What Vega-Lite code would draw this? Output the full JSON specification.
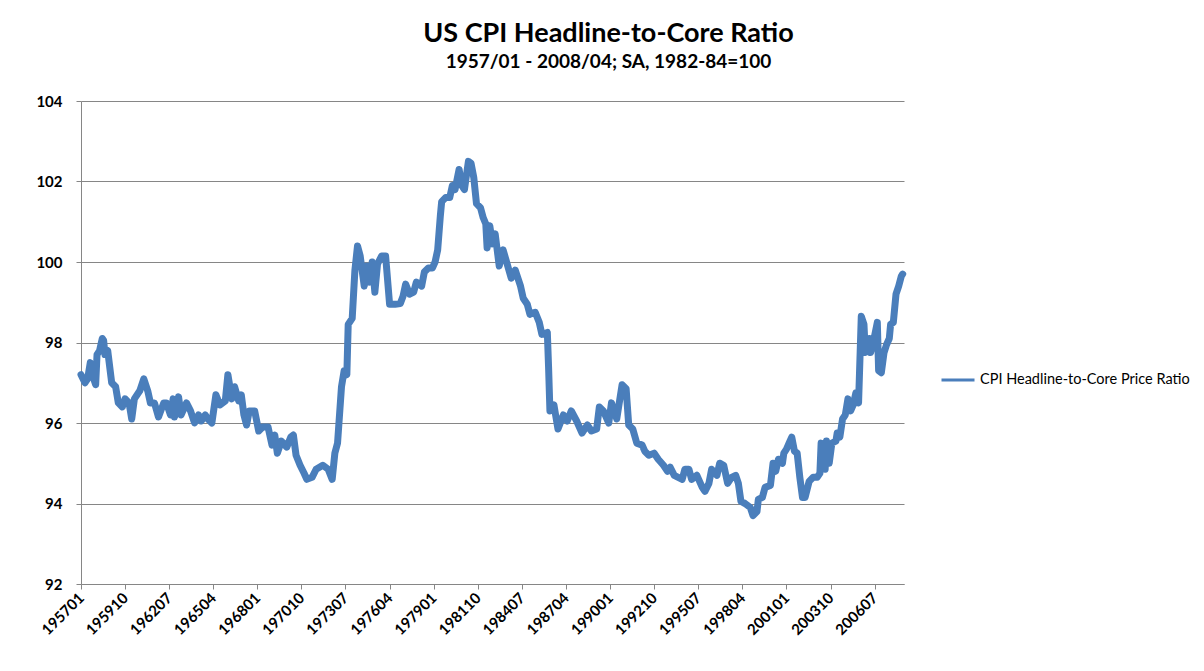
{
  "$schema": "https://vega.github.io/schema/vega-lite/v6.json",
  "autosize": {"type": "none"},
  "width": 823,
  "height": 483,
  "padding": {"left": 81, "top": 101, "right": 300, "bottom": 87},
  "background": "white",
  "title": {
    "text": "US CPI Headline-to-Core Ratio",
    "subtitle": "1957/01 - 2008/04;  SA, 1982-84=100",
    "anchor": "middle",
    "frame": "group",
    "dx": 116,
    "offset": 21,
    "font": "Lato",
    "fontSize": 27,
    "fontWeight": "bold",
    "color": "#000000",
    "subtitleFont": "Lato",
    "subtitleFontSize": 19,
    "subtitleFontWeight": "bold",
    "subtitleColor": "#000000",
    "subtitlePadding": 5
  },
  "data": {"values": [
    {"d":"1957-01-01","v":97.2},{"d":"1957-04-01","v":97.0},{"d":"1957-06-01","v":97.1},{"d":"1957-08-01","v":97.5},{"d":"1957-10-01","v":97.15},{"d":"1957-12-01","v":96.95},
    {"d":"1958-01-01","v":97.7},{"d":"1958-03-01","v":97.8},{"d":"1958-05-01","v":98.1},{"d":"1958-06-01","v":98.05},{"d":"1958-07-01","v":97.7},{"d":"1958-09-01","v":97.8},{"d":"1958-12-01","v":97.0},
    {"d":"1959-03-01","v":96.9},{"d":"1959-05-01","v":96.5},{"d":"1959-08-01","v":96.4},{"d":"1959-10-01","v":96.6},
    {"d":"1960-01-01","v":96.5},{"d":"1960-03-01","v":96.1},{"d":"1960-05-01","v":96.6},{"d":"1960-09-01","v":96.8},{"d":"1960-12-01","v":97.1},
    {"d":"1961-03-01","v":96.8},{"d":"1961-05-01","v":96.5},{"d":"1961-08-01","v":96.5},{"d":"1961-11-01","v":96.15},
    {"d":"1962-03-01","v":96.5},{"d":"1962-05-01","v":96.5},{"d":"1962-08-01","v":96.2},{"d":"1962-10-01","v":96.6},{"d":"1962-11-01","v":96.15},
    {"d":"1963-02-01","v":96.65},{"d":"1963-04-01","v":96.2},{"d":"1963-08-01","v":96.5},{"d":"1963-11-01","v":96.3},
    {"d":"1964-02-01","v":96.0},{"d":"1964-05-01","v":96.2},{"d":"1964-07-01","v":96.05},{"d":"1964-10-01","v":96.2},{"d":"1964-12-01","v":96.1},
    {"d":"1965-03-01","v":96.0},{"d":"1965-06-01","v":96.7},{"d":"1965-09-01","v":96.45},
    {"d":"1966-01-01","v":96.55},{"d":"1966-03-01","v":97.2},{"d":"1966-06-01","v":96.6},{"d":"1966-08-01","v":96.9},{"d":"1966-11-01","v":96.55},
    {"d":"1967-01-01","v":96.7},{"d":"1967-03-01","v":96.2},{"d":"1967-05-01","v":95.95},{"d":"1967-07-01","v":96.3},{"d":"1967-11-01","v":96.3},
    {"d":"1968-02-01","v":95.8},{"d":"1968-05-01","v":95.9},{"d":"1968-09-01","v":95.9},{"d":"1968-12-01","v":95.45},
    {"d":"1969-02-01","v":95.7},{"d":"1969-04-01","v":95.25},{"d":"1969-07-01","v":95.55},{"d":"1969-11-01","v":95.4},
    {"d":"1970-02-01","v":95.65},{"d":"1970-04-01","v":95.7},{"d":"1970-06-01","v":95.2},{"d":"1970-09-01","v":94.95},{"d":"1970-12-01","v":94.75},
    {"d":"1971-02-01","v":94.6},{"d":"1971-06-01","v":94.65},{"d":"1971-09-01","v":94.85},
    {"d":"1972-02-01","v":94.95},{"d":"1972-06-01","v":94.85},{"d":"1972-09-01","v":94.6},{"d":"1972-11-01","v":95.25},
    {"d":"1973-01-01","v":95.5},{"d":"1973-04-01","v":96.9},{"d":"1973-06-01","v":97.3},{"d":"1973-08-01","v":97.2},{"d":"1973-09-01","v":98.45},{"d":"1973-12-01","v":98.6},
    {"d":"1974-02-01","v":99.8},{"d":"1974-04-01","v":100.4},{"d":"1974-06-01","v":100.15},{"d":"1974-09-01","v":99.4},{"d":"1974-11-01","v":99.9},
    {"d":"1975-01-01","v":99.5},{"d":"1975-03-01","v":100.0},{"d":"1975-05-01","v":99.25},{"d":"1975-07-01","v":99.95},{"d":"1975-10-01","v":100.15},
    {"d":"1976-01-01","v":100.15},{"d":"1976-04-01","v":98.95},{"d":"1976-08-01","v":98.95},{"d":"1976-12-01","v":98.97},
    {"d":"1977-02-01","v":99.15},{"d":"1977-04-01","v":99.45},{"d":"1977-07-01","v":99.2},{"d":"1977-10-01","v":99.25},{"d":"1977-12-01","v":99.5},
    {"d":"1978-04-01","v":99.4},{"d":"1978-06-01","v":99.75},{"d":"1978-09-01","v":99.85},{"d":"1978-12-01","v":99.85},
    {"d":"1979-02-01","v":100.0},{"d":"1979-04-01","v":100.3},{"d":"1979-06-01","v":101.15},{"d":"1979-07-01","v":101.5},{"d":"1979-10-01","v":101.6},
    {"d":"1980-01-01","v":101.6},{"d":"1980-03-01","v":101.9},{"d":"1980-05-01","v":101.8},{"d":"1980-08-01","v":102.3},{"d":"1980-10-01","v":101.9},{"d":"1980-12-01","v":101.8},
    {"d":"1981-03-01","v":102.5},{"d":"1981-05-01","v":102.45},{"d":"1981-07-01","v":102.1},{"d":"1981-09-01","v":101.45},{"d":"1981-12-01","v":101.35},
    {"d":"1982-02-01","v":101.1},{"d":"1982-04-01","v":100.95},{"d":"1982-05-01","v":100.35},{"d":"1982-07-01","v":100.9},{"d":"1982-09-01","v":100.45},{"d":"1982-11-01","v":100.7},
    {"d":"1983-02-01","v":99.9},{"d":"1983-05-01","v":100.3},{"d":"1983-08-01","v":99.95},{"d":"1983-11-01","v":99.6},
    {"d":"1984-02-01","v":99.8},{"d":"1984-06-01","v":99.4},{"d":"1984-08-01","v":99.1},{"d":"1984-11-01","v":98.95},
    {"d":"1985-01-01","v":98.7},{"d":"1985-05-01","v":98.75},{"d":"1985-08-01","v":98.5},{"d":"1985-10-01","v":98.2},
    {"d":"1986-02-01","v":98.25},{"d":"1986-03-01","v":97.4},{"d":"1986-04-01","v":96.3},{"d":"1986-07-01","v":96.45},{"d":"1986-10-01","v":95.85},
    {"d":"1987-02-01","v":96.2},{"d":"1987-05-01","v":96.05},{"d":"1987-08-01","v":96.3},{"d":"1987-12-01","v":96.05},
    {"d":"1988-04-01","v":95.75},{"d":"1988-08-01","v":95.95},{"d":"1988-11-01","v":95.8},
    {"d":"1989-03-01","v":95.85},{"d":"1989-05-01","v":96.4},{"d":"1989-08-01","v":96.3},{"d":"1989-12-01","v":96.0},
    {"d":"1990-02-01","v":96.5},{"d":"1990-06-01","v":96.1},{"d":"1990-10-01","v":96.95},
    {"d":"1991-01-01","v":96.85},{"d":"1991-03-01","v":95.95},{"d":"1991-06-01","v":95.85},{"d":"1991-09-01","v":95.5},
    {"d":"1992-01-01","v":95.45},{"d":"1992-03-01","v":95.3},{"d":"1992-06-01","v":95.2},{"d":"1992-10-01","v":95.25},
    {"d":"1993-01-01","v":95.1},{"d":"1993-05-01","v":94.95},{"d":"1993-08-01","v":94.8},{"d":"1993-10-01","v":94.9},
    {"d":"1994-01-01","v":94.7},{"d":"1994-04-01","v":94.65},{"d":"1994-07-01","v":94.6},{"d":"1994-09-01","v":94.85},{"d":"1994-12-01","v":94.85},
    {"d":"1995-02-01","v":94.6},{"d":"1995-06-01","v":94.7},{"d":"1995-10-01","v":94.4},{"d":"1995-12-01","v":94.3},
    {"d":"1996-03-01","v":94.5},{"d":"1996-05-01","v":94.85},{"d":"1996-09-01","v":94.7},{"d":"1996-11-01","v":95.0},
    {"d":"1997-02-01","v":94.95},{"d":"1997-05-01","v":94.5},{"d":"1997-08-01","v":94.65},{"d":"1997-11-01","v":94.7},
    {"d":"1998-01-01","v":94.5},{"d":"1998-03-01","v":94.05},{"d":"1998-06-01","v":94.0},{"d":"1998-10-01","v":93.9},{"d":"1998-12-01","v":93.7},
    {"d":"1999-03-01","v":93.8},{"d":"1999-04-01","v":94.1},{"d":"1999-07-01","v":94.15},{"d":"1999-09-01","v":94.4},
    {"d":"2000-01-01","v":94.45},{"d":"2000-03-01","v":95.0},{"d":"2000-05-01","v":94.8},{"d":"2000-07-01","v":95.1},{"d":"2000-10-01","v":95.0},{"d":"2000-11-01","v":95.25},
    {"d":"2001-01-01","v":95.35},{"d":"2001-03-01","v":95.5},{"d":"2001-05-01","v":95.65},{"d":"2001-07-01","v":95.3},{"d":"2001-09-01","v":95.25},{"d":"2001-11-01","v":94.65},
    {"d":"2002-01-01","v":94.15},{"d":"2002-03-01","v":94.15},{"d":"2002-06-01","v":94.55},{"d":"2002-09-01","v":94.65},{"d":"2002-12-01","v":94.65},
    {"d":"2003-02-01","v":94.75},{"d":"2003-03-01","v":95.5},{"d":"2003-06-01","v":94.85},{"d":"2003-07-01","v":95.55},{"d":"2003-09-01","v":95.0},{"d":"2003-11-01","v":95.5},
    {"d":"2004-02-01","v":95.55},{"d":"2004-03-01","v":95.75},{"d":"2004-05-01","v":95.65},{"d":"2004-07-01","v":96.1},{"d":"2004-09-01","v":96.2},{"d":"2004-11-01","v":96.6},
    {"d":"2005-01-01","v":96.3},{"d":"2005-03-01","v":96.45},{"d":"2005-05-01","v":96.75},{"d":"2005-07-01","v":96.5},{"d":"2005-09-01","v":98.65},{"d":"2005-11-01","v":98.45},{"d":"2005-12-01","v":97.75},
    {"d":"2006-03-01","v":98.1},{"d":"2006-04-01","v":97.75},{"d":"2006-06-01","v":98.0},{"d":"2006-09-01","v":98.5},{"d":"2006-10-01","v":97.3},{"d":"2006-12-01","v":97.25},
    {"d":"2007-02-01","v":97.75},{"d":"2007-04-01","v":97.95},{"d":"2007-06-01","v":98.1},{"d":"2007-07-01","v":98.45},{"d":"2007-09-01","v":98.5},{"d":"2007-11-01","v":99.2},
    {"d":"2008-01-01","v":99.4},{"d":"2008-03-01","v":99.65},{"d":"2008-04-01","v":99.7}
  ]},
  "mark": {"type": "line", "strokeWidth": 7, "strokeJoin": "round", "strokeCap": "round"},
  "encoding": {
    "x": {
      "field": "d",
      "type": "temporal",
      "scale": {"type": "utc", "domain": [{"year": 1957, "month": 1, "date": 1, "utc": true}, {"year": 2008, "month": 5, "date": 1, "utc": true}], "nice": false},
      "axis": {
        "title": null,
        "grid": false,
        "values": [
          {"year": 1957, "month": 1, "date": 1, "utc": true},
          {"year": 1959, "month": 10, "date": 1, "utc": true},
          {"year": 1962, "month": 7, "date": 1, "utc": true},
          {"year": 1965, "month": 4, "date": 1, "utc": true},
          {"year": 1968, "month": 1, "date": 1, "utc": true},
          {"year": 1970, "month": 10, "date": 1, "utc": true},
          {"year": 1973, "month": 7, "date": 1, "utc": true},
          {"year": 1976, "month": 4, "date": 1, "utc": true},
          {"year": 1979, "month": 1, "date": 1, "utc": true},
          {"year": 1981, "month": 10, "date": 1, "utc": true},
          {"year": 1984, "month": 7, "date": 1, "utc": true},
          {"year": 1987, "month": 4, "date": 1, "utc": true},
          {"year": 1990, "month": 1, "date": 1, "utc": true},
          {"year": 1992, "month": 10, "date": 1, "utc": true},
          {"year": 1995, "month": 7, "date": 1, "utc": true},
          {"year": 1998, "month": 4, "date": 1, "utc": true},
          {"year": 2001, "month": 1, "date": 1, "utc": true},
          {"year": 2003, "month": 10, "date": 1, "utc": true},
          {"year": 2006, "month": 7, "date": 1, "utc": true}
        ],
        "format": "%Y%m",
        "labelAngle": -45,
        "labelAlign": "right",
        "labelBaseline": "middle",
        "labelPadding": 6,
        "labelFont": "Lato",
        "labelFontSize": 15,
        "labelFontWeight": "bold",
        "labelColor": "#000000",
        "labelOverlap": false,
        "labelFlush": false,
        "domainColor": "#868686",
        "tickColor": "#868686",
        "tickSize": 5
      }
    },
    "y": {
      "field": "v",
      "type": "quantitative",
      "scale": {"domain": [92, 104], "nice": false, "zero": false},
      "axis": {
        "title": null,
        "values": [92, 94, 96, 98, 100, 102, 104],
        "grid": true,
        "gridColor": "#868686",
        "gridWidth": 1,
        "domainColor": "#868686",
        "tickColor": "#868686",
        "tickSize": 5,
        "labelPadding": 14,
        "labelFont": "Lato",
        "labelFontSize": 15,
        "labelFontWeight": "bold",
        "labelColor": "#000000"
      }
    },
    "color": {
      "datum": "CPI Headline-to-Core Price Ratio",
      "type": "nominal",
      "scale": {"range": ["#4a7ebb"]},
      "legend": {
        "title": null,
        "orient": "none",
        "legendX": 859,
        "legendY": 261,
        "symbolType": "stroke",
        "symbolSize": 1089,
        "symbolStrokeWidth": 3,
        "labelFont": "Lato",
        "labelFontSize": 14.5,
        "labelColor": "#000000",
        "labelOffset": 4,
        "labelLimit": 0
      }
    }
  },
  "config": {"view": {"stroke": null}}
}
